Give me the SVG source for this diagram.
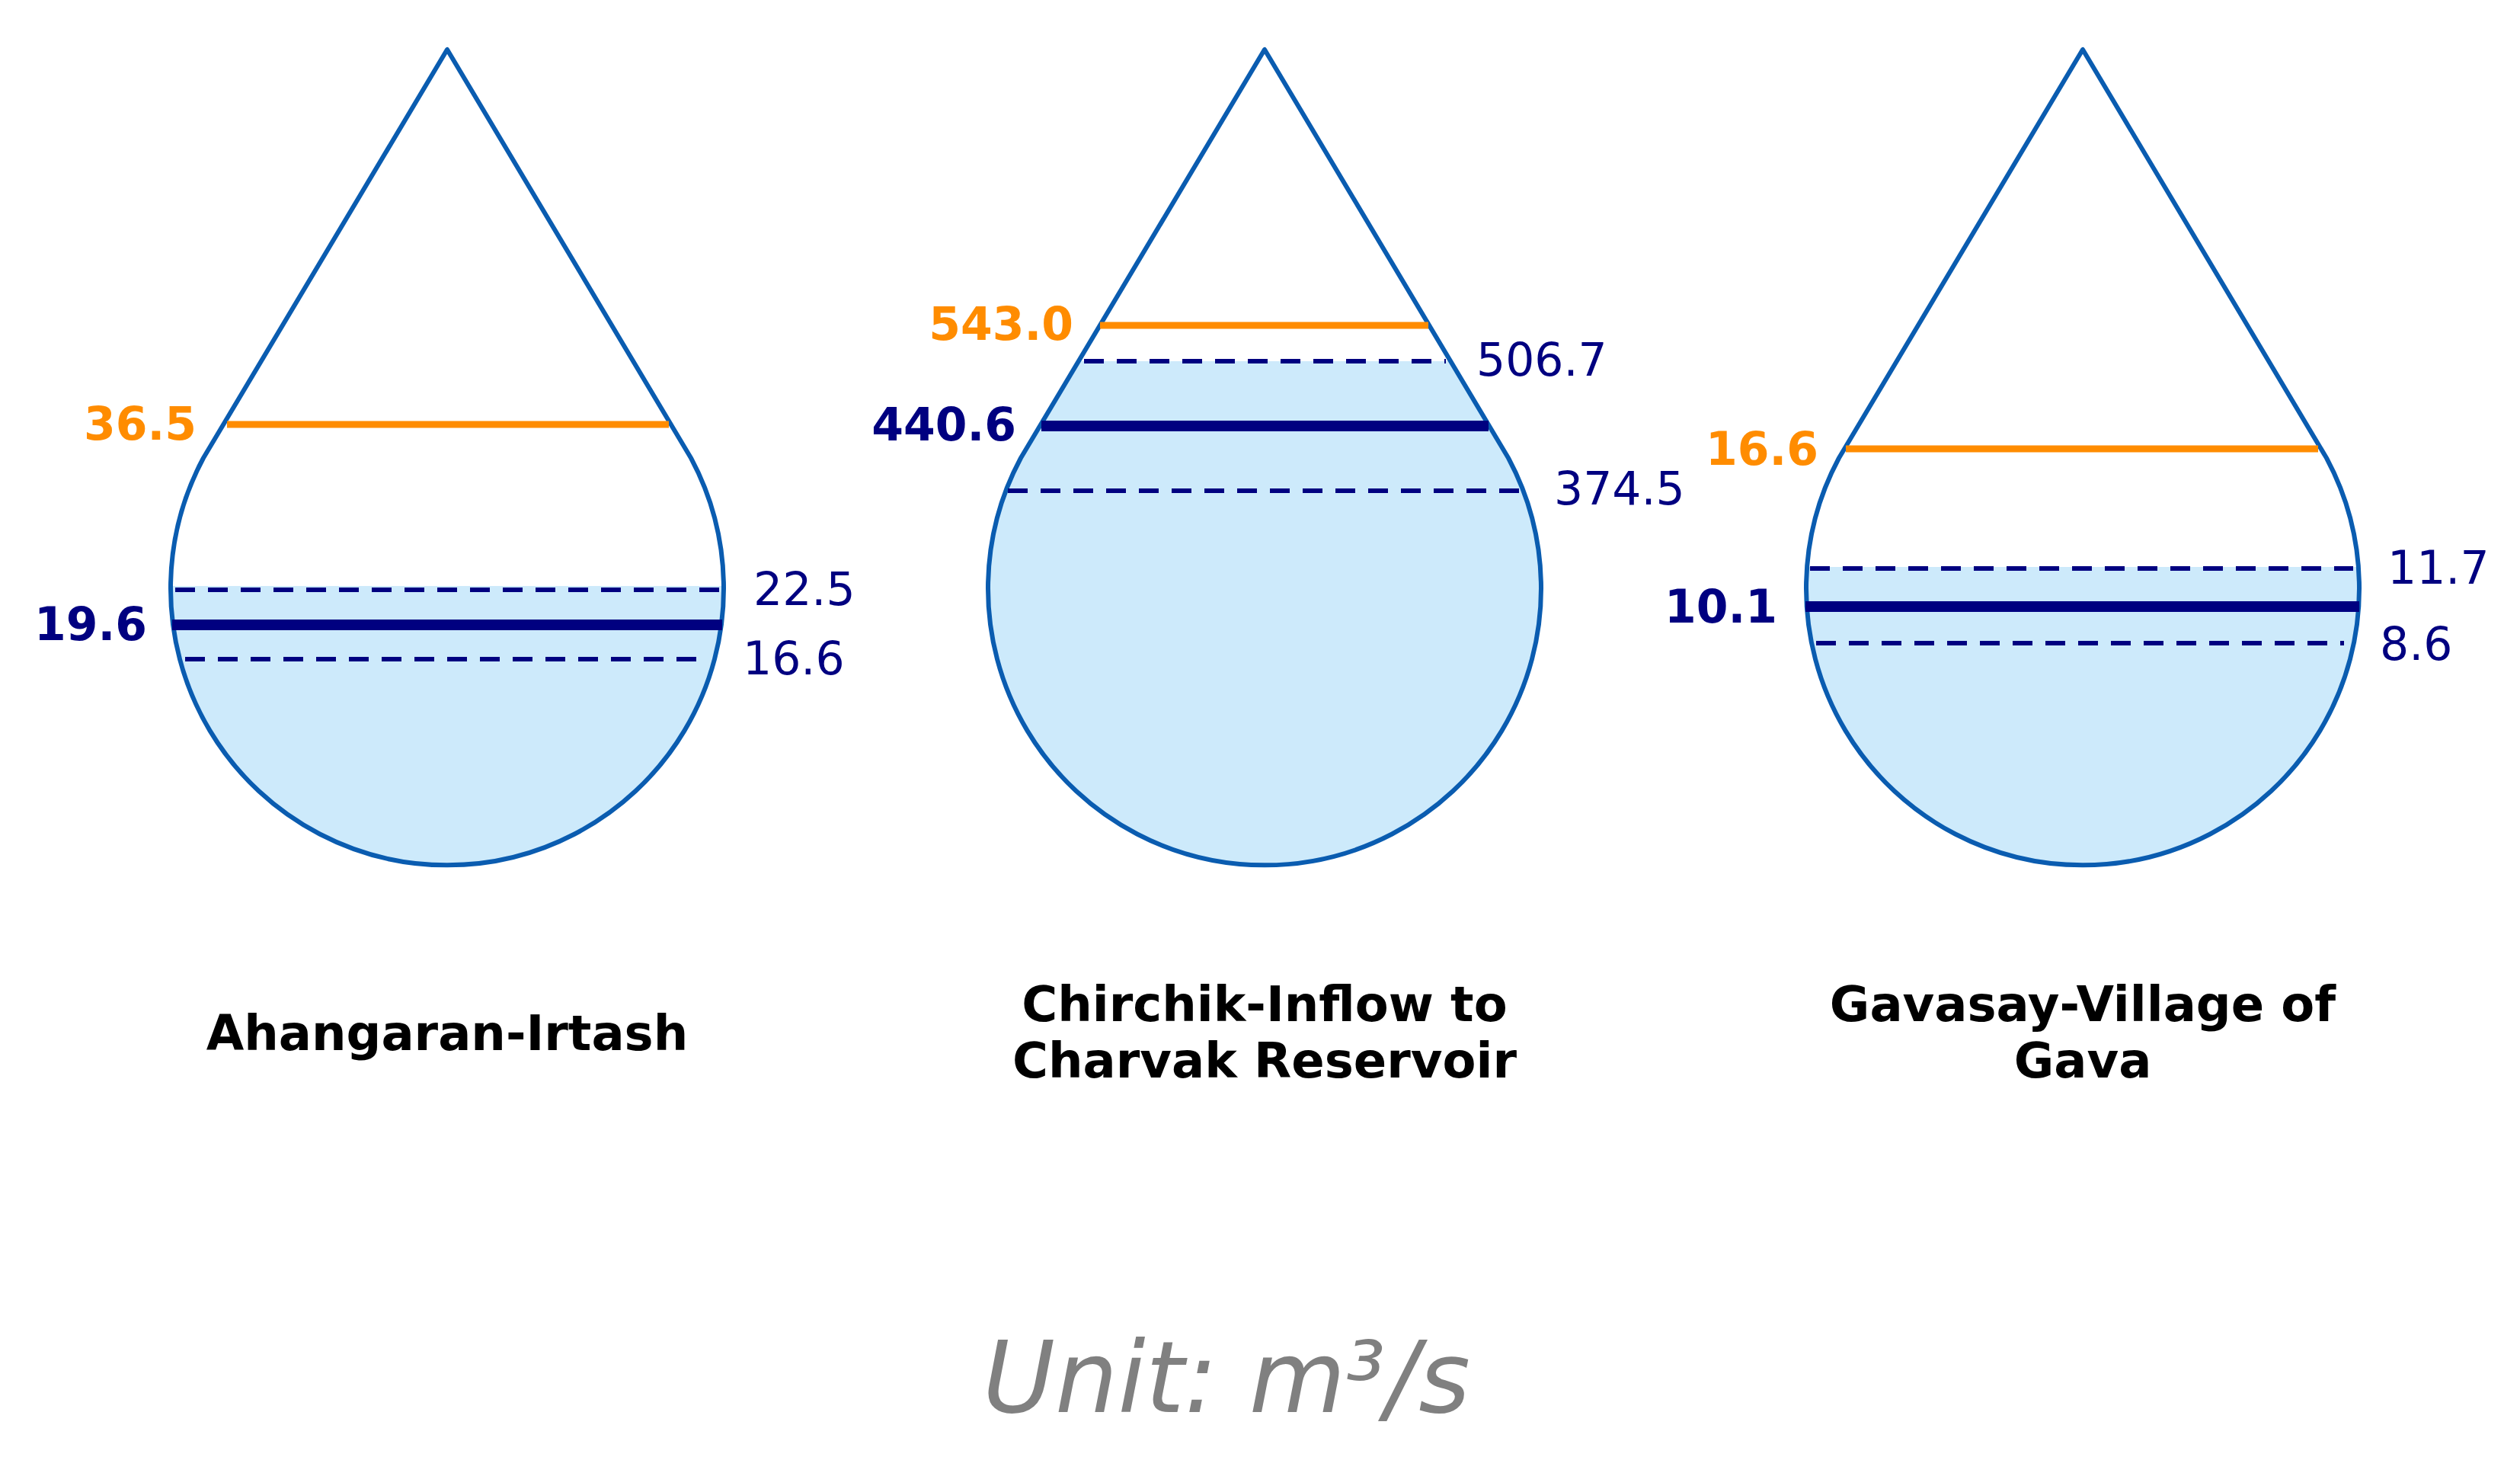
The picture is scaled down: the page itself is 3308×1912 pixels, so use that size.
<svg xmlns="http://www.w3.org/2000/svg" width="3308" height="1912" viewBox="0 0 3308 1912">
<style>
.out{fill:none;stroke:#0a5cb0;stroke-width:6;stroke-linejoin:round}
.water{fill:#cdeafb}
.max{stroke:#ff8c00;stroke-width:9}
.mean{stroke:#000080;stroke-width:14}
.dash{stroke:#000080;stroke-width:6;stroke-dasharray:26 17}
text{font-family:"DejaVu Sans","Liberation Sans",sans-serif}
.lo{fill:#ff8c00;font-weight:bold;font-size:60px;text-anchor:end}
.lm{fill:#000080;font-weight:bold;font-size:60px;text-anchor:end}
.ld{fill:#000080;font-size:60px}
.title{fill:#000;font-weight:bold;font-size:64px;text-anchor:middle}
</style>
<defs>
<path id="drop" d="M0 65 L-320 601 A363 363 0 1 0 320 601 Z"/>
<clipPath id="c1"><use href="#drop" x="587"/></clipPath>
<clipPath id="c2"><use href="#drop" x="1660"/></clipPath>
<clipPath id="c3"><use href="#drop" x="2734"/></clipPath>
</defs>
<g id="drop1">
<rect class="water" x="200" y="769" width="800" height="400" clip-path="url(#c1)"/>
<use href="#drop" x="587" class="out"/>
<line class="max" x1="298" y1="557" x2="878" y2="557"/>
<line class="dash" x1="230" y1="774" x2="946" y2="774"/>
<line class="mean" x1="226" y1="820" x2="948" y2="820"/>
<line class="dash" x1="243" y1="865" x2="931" y2="865"/>
<text class="lo" x="258" y="577">36.5</text>
<text class="lm" x="193" y="840">19.6</text>
<text class="ld" x="989" y="794">22.5</text>
<text class="ld" x="975" y="885">16.6</text>
<text class="title" x="587" y="1378">Ahangaran-Irtash</text>
</g>
<g id="drop2">
<rect class="water" x="1200" y="474" width="900" height="700" clip-path="url(#c2)"/>
<use href="#drop" x="1660" class="out"/>
<line class="max" x1="1444" y1="427" x2="1875" y2="427"/>
<line class="dash" x1="1423" y1="474" x2="1898" y2="474"/>
<line class="mean" x1="1367" y1="559" x2="1954" y2="559"/>
<line class="dash" x1="1323" y1="644" x2="2000" y2="644"/>
<text class="lo" x="1409" y="446">543.0</text>
<text class="lm" x="1334" y="578">440.6</text>
<text class="ld" x="1938" y="493">506.7</text>
<text class="ld" x="2040" y="662">374.5</text>
<text class="title" x="1660" y="1340">Chirchik-Inflow to</text>
<text class="title" x="1660" y="1414">Charvak Reservoir</text>
</g>
<g id="drop3">
<rect class="water" x="2300" y="744" width="900" height="430" clip-path="url(#c3)"/>
<use href="#drop" x="2734" class="out"/>
<line class="max" x1="2423" y1="589" x2="3043" y2="589"/>
<line class="dash" x1="2376" y1="746" x2="3089" y2="746"/>
<line class="mean" x1="2370" y1="796" x2="3097" y2="796"/>
<line class="dash" x1="2384" y1="844" x2="3077" y2="844"/>
<text class="lo" x="2387" y="610">16.6</text>
<text class="lm" x="2333" y="817">10.1</text>
<text class="ld" x="3134" y="766">11.7</text>
<text class="ld" x="3124" y="866">8.6</text>
<text class="title" x="2734" y="1340">Gavasay-Village of</text>
<text class="title" x="2734" y="1414">Gava</text>
</g>
<g id="connectors"/>
<text x="1610" y="1853" style="fill:#808080;font-style:italic;font-size:130px;text-anchor:middle">Unit: m³/s</text>
</svg>
